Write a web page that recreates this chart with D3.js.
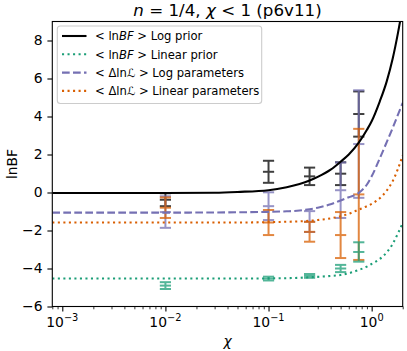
<!DOCTYPE html>
<html><head><meta charset="utf-8">
<script src="https://cdn.jsdelivr.net/npm/d3@7"></script>
<style>
html,body{margin:0;padding:0;background:#fff;}
svg{display:block;font-family:"DejaVu Sans",sans-serif;}
</style></head>
<body><svg id="c" width="407" height="351"></svg>
<script>
// ---- data ----
const chiPoints = [0.01, 0.1, 0.25, 0.5, 0.75];
const logPriorMean = [-0.38, 1.09, 0.85, 0.99, 4.13];
const logPriorErr  = [0.34, 0.58, 0.46, 0.60, 1.19];
const linPriorMean = [-4.90, -4.53, -4.39, -4.00, -3.13];
const linPriorErr  = [0.18, 0.10, 0.10, 0.19, 0.51];
const logParMean   = [-1.03, -0.72, -1.53, 0.12, 2.55];
const logParErr    = [0.83, 0.73, 0.55, 1.46, 2.83];
const linParMean   = [-0.80, -1.58, -2.07, -2.24, -0.10];
const linParErr    = [0.54, 0.66, 0.52, 1.21, 3.45];

const chiCurve = [0.0008, 0.001, 0.01, 0.03, 0.05, 0.1, 0.15, 0.2, 0.25, 0.3, 0.4, 0.5, 0.6, 0.75, 0.9, 1.0, 1.2, 1.4, 1.6, 1.8, 2.0];
const logPriorCurve = [-0.03, -0.03, -0.03, -0.01, 0.03, 0.12, 0.28, 0.45, 0.63, 0.82, 1.2, 1.62, 2.0, 2.62, 3.3, 3.75, 4.8, 5.85, 7.05, 8.4, 9.8];
const linPriorCurve = [-4.53, -4.53, -4.53, -4.53, -4.53, -4.52, -4.51, -4.49, -4.46, -4.44, -4.39, -4.34, -4.25, -4.08, -3.9, -3.76, -3.5, -3.15, -2.7, -2.15, -1.6];
const logParCurve   = [-1.06, -1.06, -1.06, -1.05, -1.04, -1.02, -0.99, -0.95, -0.88, -0.8, -0.62, -0.42, -0.25, -0.02, 0.42, 0.85, 1.8, 2.65, 3.4, 4.1, 4.72];
const linParCurve   = [-1.58, -1.58, -1.58, -1.58, -1.58, -1.56, -1.54, -1.52, -1.49, -1.45, -1.36, -1.25, -1.12, -0.9, -0.72, -0.6, -0.3, 0.1, 0.6, 1.25, 1.95];

const yTicks = [-6, -4, -2, 0, 2, 4, 6, 8];
const xTicks = [1e-3, 1e-2, 1e-1, 1e0];
const xTickExp = ["\u22123", "\u22122", "\u22121", "0"];

const colors = {black: "#000000", green: "#1b9e77", purple: "#7570b3", orange: "#d95f02"};

// ---- layout ----
const L = 52.3, R = 402.7, T = 21.5, B = 306.5;
const svg = d3.select("#c");
const x = d3.scaleLog().domain([8e-4, 2]).range([L, R]);
const y = d3.scaleLinear().domain([-6, 9]).range([B, T]);

const defs = svg.append("defs");
defs.append("clipPath").attr("id", "clip").append("rect")
  .attr("x", L).attr("y", T).attr("width", R - L).attr("height", B - T);

const plot = svg.append("g").attr("clip-path", "url(#clip)");

// error bars
function errorbars(means, errs, color) {
  const g = plot.append("g").attr("stroke", color).attr("stroke-width", 2).attr("opacity", 0.75).attr("fill", "none");
  chiPoints.forEach((c, i) => {
    const cx = x(c), m = means[i], e = errs[i];
    g.append("line").attr("x1", cx).attr("x2", cx).attr("y1", y(m - e)).attr("y2", y(m + e));
    [m - e, m, m + e].forEach(v => {
      g.append("line").attr("x1", cx - 5.6).attr("x2", cx + 5.6).attr("y1", y(v)).attr("y2", y(v));
    });
  });
}
errorbars(logPriorMean, logPriorErr, colors.black);
errorbars(logParMean, logParErr, colors.purple);
errorbars(linParMean, linParErr, colors.orange);
errorbars(linPriorMean, linPriorErr, colors.green);

// curves
const line = d3.line().x(d => x(d[0])).y(d => y(d[1])).curve(d3.curveMonotoneX);
function curve(vals, color, dash) {
  plot.append("path").datum(chiCurve.map((c, i) => [c, vals[i]]))
    .attr("d", line).attr("fill", "none").attr("stroke", color)
    .attr("stroke-width", 2.08).attr("stroke-dasharray", dash);
}
curve(logPriorCurve, colors.black, null);
curve(linPriorCurve, colors.green, "2.08,3.44");
curve(logParCurve, colors.purple, "7.7,3.3");
curve(linParCurve, colors.orange, "2.08,3.44");

// axes
const yAxis = svg.append("g").attr("transform", `translate(${L},0)`)
  .call(d3.axisLeft(y).tickValues(yTicks).tickSize(4.9).tickPadding(4.9)
    .tickFormat(d => d < 0 ? "\u2212" + Math.abs(d) : d));
yAxis.selectAll("text").attr("font-size", 13.9).attr("font-family", "DejaVu Sans").attr("fill", "#000");

const minorTicks = [];
[-4, -3, -2, -1, 0].forEach(p => { for (let k = 2; k <= 9; k++) { const v = k * Math.pow(10, p); if (v >= 8e-4 && v <= 2) minorTicks.push(v); } });
const xMinor = svg.append("g").attr("transform", `translate(0,${B})`)
  .call(d3.axisBottom(x).tickValues(minorTicks).tickSize(2.8).tickFormat(""));
xMinor.selectAll("line").attr("stroke-width", 0.8);
const xAxis = svg.append("g").attr("transform", `translate(0,${B})`)
  .call(d3.axisBottom(x).tickValues(xTicks).tickSize(4.9).tickPadding(4).tickFormat(""));
svg.selectAll(".domain").remove();
svg.selectAll(".tick line").attr("stroke", "#000");
yAxis.selectAll(".tick line").attr("stroke-width", 1.1);
xAxis.selectAll(".tick line").attr("stroke-width", 1.1);

xTicks.forEach((v, i) => {
  const t = svg.append("text").attr("x", x(v)).attr("y", 327).attr("text-anchor", "middle")
    .attr("font-size", 13.9).attr("fill", "#000");
  t.append("tspan").text("10");
  t.append("tspan").attr("dy", -6).attr("font-size", 9.8).text(xTickExp[i]);
});

// frame
svg.append("rect").attr("x", L).attr("y", T).attr("width", R - L).attr("height", B - T)
  .attr("fill", "none").attr("stroke", "#000").attr("stroke-width", 1.1);

// labels
const title = svg.append("text").attr("x", (L + R) / 2).attr("y", 15.5).attr("text-anchor", "middle")
  .attr("font-size", 16.7).attr("fill", "#000");
title.append("tspan").attr("font-style", "italic").text("n");
title.append("tspan").text(" = 1/4, ");
title.append("tspan").attr("font-style", "italic").text("\u03c7");
title.append("tspan").text(" < 1 (p6v11)");

svg.append("text").attr("x", (L + R) / 2).attr("y", 346).attr("text-anchor", "middle")
  .attr("font-size", 13.9).attr("font-style", "italic").attr("fill", "#000").text("\u03c7");
svg.append("text").attr("transform", `translate(17,${(T + B) / 2}) rotate(-90)`).attr("text-anchor", "middle")
  .attr("font-size", 13.9).attr("fill", "#000").text("lnBF");

// legend
const legendItems = [
  {pre: "< ln", it: "BF", post: " >  Log prior", color: colors.black, dash: null},
  {pre: "< ln", it: "BF", post: " >  Linear prior", color: colors.green, dash: "2.08,3.44"},
  {pre: "< \u0394ln", it: "\u2112", post: " >  Log parameters", color: colors.purple, dash: "7.7,3.3"},
  {pre: "< \u0394ln", it: "\u2112", post: " >  Linear parameters", color: colors.orange, dash: "2.08,3.44"},
];
const lg = svg.append("g");
lg.append("rect").attr("x", 57.3).attr("y", 26).attr("width", 204.4).attr("height", 77.5)
  .attr("rx", 3).attr("fill", "#fff").attr("fill-opacity", 0.8).attr("stroke", "#cccccc").attr("stroke-width", 1.1);
const rowY = [36, 54.3, 72.6, 90.9];
legendItems.forEach((d, i) => {
  lg.append("line").attr("x1", 62).attr("x2", 86.5).attr("y1", rowY[i]).attr("y2", rowY[i])
    .attr("stroke", d.color).attr("stroke-width", 2.08).attr("stroke-dasharray", d.dash);
  const t = lg.append("text").attr("x", 95).attr("y", rowY[i] + 4.2).attr("font-size", 11.6).attr("fill", "#000");
  t.append("tspan").text(d.pre);
  t.append("tspan").attr("font-style", "italic").text(d.it);
  t.append("tspan").text(d.post);
});
</script></body></html>
